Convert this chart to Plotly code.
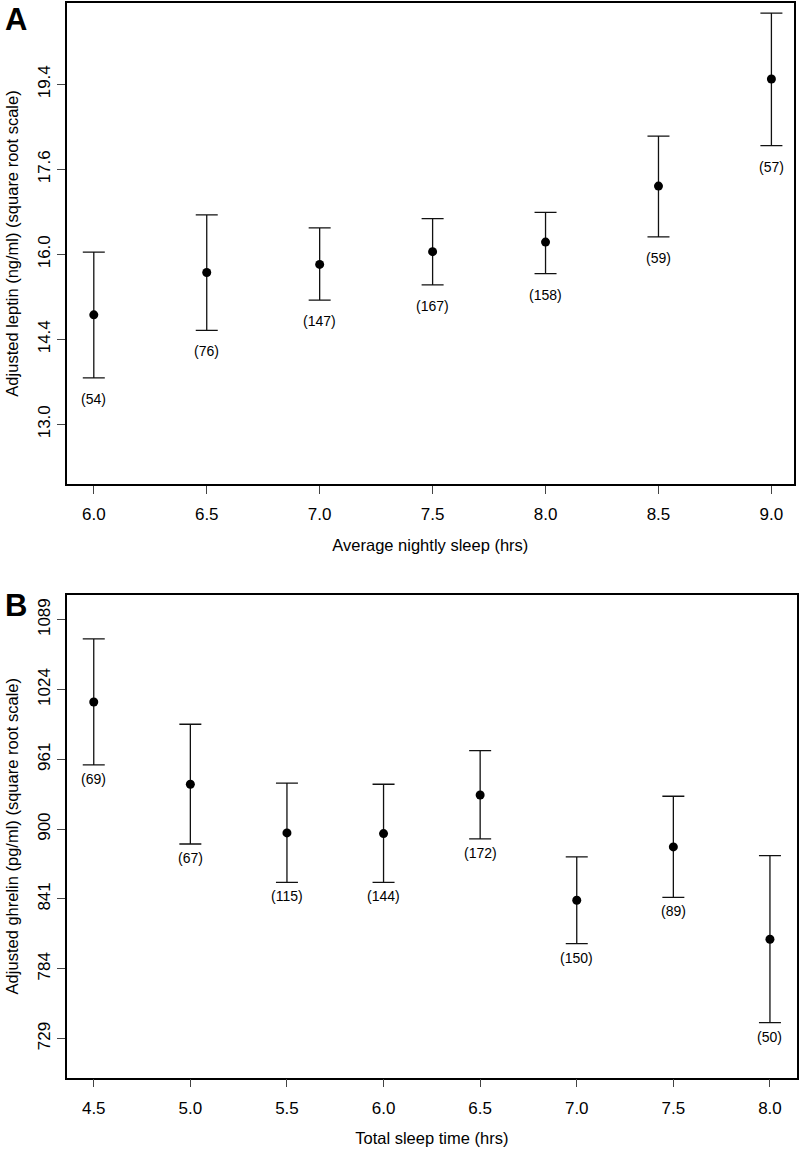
import numpy as np
import plotly.graph_objects as go

# ---------------- Panel A: leptin ----------------
sleep_a = [6.0, 6.5, 7.0, 7.5, 8.0, 8.5, 9.0]
leptin_mean = [14.88, 15.66, 15.81, 16.05, 16.23, 17.31, 19.47]
leptin_upper = [16.04, 16.75, 16.50, 16.68, 16.80, 18.30, 20.86]
leptin_lower = [13.76, 14.60, 15.15, 15.43, 15.64, 16.33, 18.11]
leptin_n = [54, 76, 147, 167, 158, 59, 57]
leptin_ticks = [13.0, 14.4, 16.0, 17.6, 19.4]
leptin_tick_roots = [3.6, 3.8, 4.0, 4.2, 4.4]
xticks_a = [6.0, 6.5, 7.0, 7.5, 8.0, 8.5, 9.0]

# ---------------- Panel B: ghrelin ----------------
sleep_b = [4.5, 5.0, 5.5, 6.0, 6.5, 7.0, 7.5, 8.0]
ghrelin_mean = [1012.6, 939.0, 896.8, 896.2, 929.6, 839.9, 884.8, 807.9]
ghrelin_upper = [1070.9, 992.4, 939.9, 939.0, 968.7, 876.3, 928.5, 877.4]
ghrelin_lower = [956.0, 887.3, 854.9, 854.9, 891.6, 804.3, 842.4, 741.4]
ghrelin_n = [69, 67, 115, 144, 172, 150, 89, 50]
ghrelin_ticks = [729, 784, 841, 900, 961, 1024, 1089]
xticks_b = [4.5, 5.0, 5.5, 6.0, 6.5, 7.0, 7.5, 8.0]

FONT = "Liberation Sans, Arial, Helvetica, sans-serif"
W, H = 800, 1149


def sq(v):
    return np.sqrt(np.asarray(v, dtype=float))


fig = go.Figure()


def add_panel(x, mean, upper, lower, xa, ya):
    m = sq(mean)
    fig.add_trace(go.Scatter(
        x=x, y=m, mode="markers", xaxis=xa, yaxis=ya,
        marker=dict(color="black", size=9),
        error_y=dict(type="data", symmetric=False,
                     array=sq(upper) - m, arrayminus=m - sq(lower),
                     color="#111111", thickness=1.3, width=11),
        showlegend=False, hoverinfo="skip"))


add_panel(sleep_a, leptin_mean, leptin_upper, leptin_lower, "x", "y")
add_panel(sleep_b, ghrelin_mean, ghrelin_upper, ghrelin_lower, "x2", "y2")

annotations = []
for xv, lo, n in zip(sleep_a, leptin_lower, leptin_n):
    annotations.append(dict(x=xv, y=float(sq(lo)), xref="x", yref="y",
                            text=f"({n})", showarrow=False, yshift=-21,
                            xanchor="center", yanchor="middle",
                            font=dict(family=FONT, size=14, color="black")))
for xv, lo, n in zip(sleep_b, ghrelin_lower, ghrelin_n):
    annotations.append(dict(x=xv, y=float(sq(lo)), xref="x2", yref="y2",
                            text=f"({n})", showarrow=False, yshift=-14,
                            xanchor="center", yanchor="middle",
                            font=dict(family=FONT, size=14, color="black")))

# panel letters
annotations.append(dict(x=16 / W, y=1.0, xref="paper", yref="paper",
                        text="<b>A</b>", showarrow=False, xanchor="center",
                        yanchor="top", font=dict(family=FONT, size=31, color="black")))
annotations.append(dict(x=16 / W, y=1 - 605 / H, xref="paper", yref="paper",
                        text="<b>B</b>", showarrow=False, xanchor="center",
                        yanchor="middle", font=dict(family=FONT, size=31, color="black")))

axis_common = dict(showline=True, linecolor="black", linewidth=1.5, mirror=True,
                   ticks="outside", ticklen=8, tickwidth=1, tickcolor="#444444",
                   showgrid=False, zeroline=False,
                   tickfont=dict(family=FONT, size=17, color="black"),
                   automargin=False)

fig.update_layout(
    width=W, height=H,
    margin=dict(l=0, r=0, t=0, b=0),
    plot_bgcolor="white", paper_bgcolor="white",
    showlegend=False,
    annotations=annotations,
    xaxis=dict(axis_common, domain=[66.7 / W, 794 / W], range=[5.88, 9.10],
               tickvals=xticks_a, ticktext=[f"{v:.1f}" for v in xticks_a],
               anchor="y", ticklabelstandoff=6,
               title=dict(text="Average nightly sleep (hrs)", standoff=16,
                          font=dict(family=FONT, size=16.5, color="black"))),
    yaxis=dict(axis_common, domain=[1 - 484.3 / H, 1 - 2.7 / H],
               range=[3.4588, 4.592], tickvals=leptin_tick_roots,
               ticktext=[f"{v:.1f}" for v in leptin_ticks], tickangle=-90,
               anchor="x", ticklabelstandoff=0,
               title=dict(text="Adjusted leptin (ng/ml) (square root scale)", standoff=12,
                          font=dict(family=FONT, size=16.5, color="black"))),
    xaxis2=dict(axis_common, domain=[66.7 / W, 797 / W], range=[4.36, 8.14],
                tickvals=xticks_b, ticktext=[f"{v:.1f}" for v in xticks_b],
                anchor="y2", ticklabelstandoff=6,
                title=dict(text="Total sleep time (hrs)", standoff=16,
                           font=dict(family=FONT, size=16.5, color="black"))),
    yaxis2=dict(axis_common, domain=[1 - 1077.7 / H, 1 - 594.7 / H],
                range=[26.44, 33.358], tickvals=list(sq(ghrelin_ticks)),
                ticktext=[str(v) for v in ghrelin_ticks], tickangle=-90,
                anchor="x2", ticklabelstandoff=0,
                title=dict(text="Adjusted ghrelin (pg/ml) (square root scale)", standoff=12,
                           font=dict(family=FONT, size=16.5, color="black"))),
)

fig.write_html("out.html", config={"displayModeBar": False},
               post_script="document.body.style.margin='0';document.body.style.padding='0';")
